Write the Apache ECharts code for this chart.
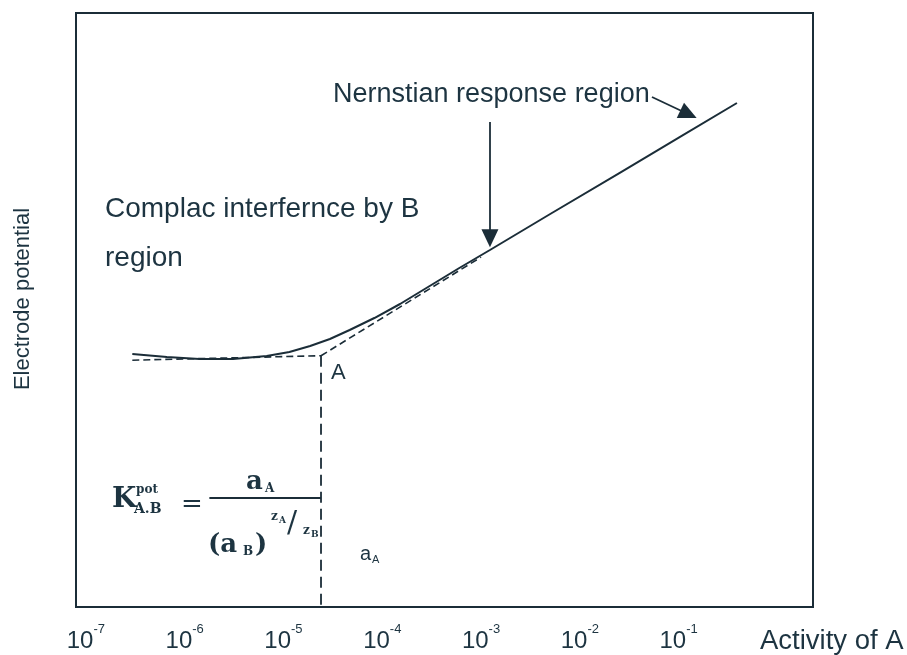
<!DOCTYPE html>
<html><head><meta charset="utf-8">
<script src="https://cdn.jsdelivr.net/npm/echarts@6/dist/echarts.min.js"></script>
<style>html,body{margin:0;padding:0;background:#fff}#c{width:907px;height:655px}</style>
</head><body><div id="c"></div>
<script>
// ---- data (x = log10 of activity of A, y = electrode potential, arbitrary units) ----
const tickExponents = [-7, -6, -5, -4, -3, -2, -1];
const xAxisName = 'Activity of A';
const yAxisName = 'Electrode potential';
const responseCurve = [
  [-6.53, 42.6], [-6.18, 42.1], [-5.85, 41.75], [-5.51, 41.75], [-5.17, 42.26],
  [-4.94, 42.93], [-4.73, 43.94], [-4.53, 45.12], [-4.33, 46.63], [-4.08, 48.65],
  [-3.82, 51.01], [-3.52, 54.04], [-3.22, 57.07], [-2.91, 60.10], [-2.30, 66.16],
  [-1.60, 73.06], [-0.99, 79.12], [-0.41, 84.85]
];
const flatAsymptote = [[-6.53, 41.55], [-4.62, 42.3]];
const nernstExtrapolation = [[-4.62, 42.3], [-3.0, 58.9]];
const limitDrop = [[-4.62, 42.3], [-4.62, 0]];
const fractionBar = [[-5.75, 18.35], [-4.62, 18.35]];
const arrowVertical = [[-2.91, 81.65], [-2.91, 62.1]];
const arrowDiagonal = [[-1.27, 85.86], [-0.90, 82.95]];
const xRange = [-7.1, 0.36];
const yRange = [0, 100];

const INK = '#1b2d38';
const TXT = '#1d3441';
const SANS = 'Liberation Sans, Arial, sans-serif';
const SERIF = 'DejaVu Serif, Liberation Serif, serif';

const chart = echarts.init(document.getElementById('c'), null, {renderer: 'canvas'});

function lineSeries(data, type, width) {
  return {
    type: 'line', data: data, showSymbol: false, symbol: 'none', silent: true,
    lineStyle: {color: INK, width: width || 1.8, type: type || 'solid'},
    animation: false
  };
}
function arrowSeries(pts) {
  return {
    type: 'line', data: [], silent: true, animation: false,
    markLine: {
      silent: true, animation: false,
      symbol: ['none', 'triangle'], symbolSize: [17, 18],
      label: {show: false},
      lineStyle: {color: INK, width: 1.8, type: 'solid'},
      data: [[{coord: pts[0]}, {coord: pts[1]}]]
    }
  };
}
function txt(text, x, y, size, opts) {
  opts = opts || {};
  return {
    type: 'text', x: x, y: y, rotation: opts.rotation || 0, silent: true,
    style: {
      text: text, fill: opts.fill || TXT,
      fontSize: size, fontFamily: opts.family || SANS, fontWeight: opts.weight || 'normal',
      align: opts.align || 'left', textAlign: opts.align || 'left',
      verticalAlign: 'middle', textVerticalAlign: 'middle'
    }
  };
}

const option = {
  backgroundColor: '#ffffff',
  animation: false,
  grid: {left: 76, right: 94, top: 13, bottom: 48, show: true, borderColor: INK, borderWidth: 2, backgroundColor: 'transparent'},
  xAxis: {
    type: 'value', min: xRange[0], max: xRange[1],
    axisLine: {show: false}, axisTick: {show: false}, splitLine: {show: false},
    axisLabel: {
      customValues: tickExponents, margin: 16,
      formatter: v => '{b|10}{s|' + v + '}',
      rich: {
        b: {fontSize: 24, fontFamily: SANS, color: TXT, lineHeight: 30, verticalAlign: 'bottom'},
        s: {fontSize: 13, fontFamily: SANS, color: TXT, verticalAlign: 'top'}
      }
    }
  },
  yAxis: {
    type: 'value', min: yRange[0], max: yRange[1],
    axisLine: {show: false}, axisTick: {show: false}, splitLine: {show: false}, axisLabel: {show: false}
  },
  series: [
    lineSeries(responseCurve, 'solid', 2),
    lineSeries(flatAsymptote, [7, 4], 1.6),
    lineSeries(nernstExtrapolation, [7, 4], 1.6),
    lineSeries(limitDrop, [11, 6], 1.8),
    lineSeries(fractionBar, 'solid', 1.8),
    arrowSeries(arrowVertical),
    arrowSeries(arrowDiagonal)
  ],
  graphic: [
    txt('Nernstian response region', 333, 95, 27),
    txt('Complac interfernce by B', 105, 209, 28),
    txt('region', 105, 258, 28),
    txt('A', 331, 373, 22),
    txt(yAxisName, 23, 299, 22, {rotation: Math.PI / 2, align: 'center'}),
    txt(xAxisName, 760, 641, 27.5),
    // formula
    txt('K', 112, 500, 28, {family: SERIF, weight: 'bold'}),
    txt('pot', 136, 490, 12, {family: SERIF, weight: 'bold'}),
    txt('A.B', 134, 509, 14, {family: SERIF, weight: 'bold'}),
    txt('=', 181, 505, 26, {family: SERIF}),
    txt('a', 246, 482, 26, {family: SERIF, weight: 'bold'}),
    txt('A', 265, 489, 12, {family: SERIF, weight: 'bold'}),
    txt('(a', 208, 545, 26, {family: SERIF, weight: 'bold'}),
    txt('B', 243, 552, 12, {family: SERIF, weight: 'bold'}),
    txt(')', 255, 545, 26, {family: SERIF, weight: 'bold'}),
    txt('z', 271, 517, 12, {family: SERIF, weight: 'bold'}),
    txt('A', 279, 521, 9, {family: SERIF, weight: 'bold'}),
    txt('/', 287, 524, 30, {family: SERIF}),
    txt('z', 303, 531, 12, {family: SERIF, weight: 'bold'}),
    txt('B', 311, 535, 9, {family: SERIF, weight: 'bold'}),
    txt('a', 360, 554, 20),
    txt('A', 372, 560, 11)
  ]
};
chart.setOption(option);
</script>
</body></html>
